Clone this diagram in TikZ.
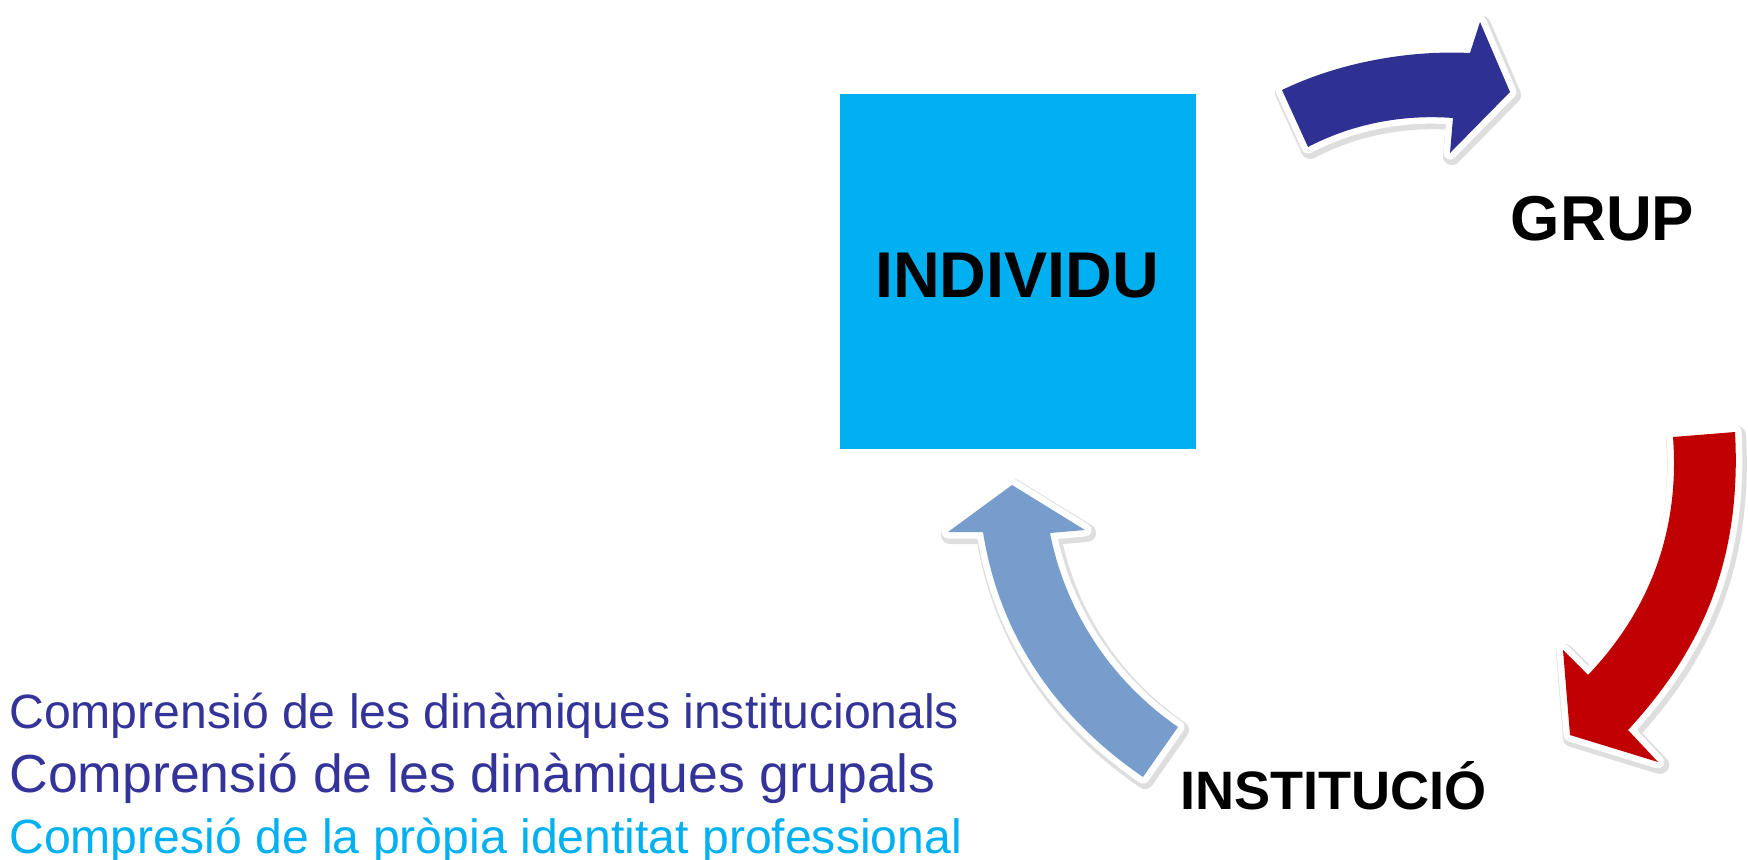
\documentclass[tikz,border=0pt]{standalone}
\usepackage{fontspec}
\setmainfont{Liberation Sans}
\definecolor{sqblue}{HTML}{00B0F0}
\definecolor{navy}{HTML}{2E3192}
\definecolor{txtnavy}{HTML}{333399}
\definecolor{arrred}{HTML}{C00000}
\definecolor{arrlight}{HTML}{769DCB}
\tikzset{
  lbl/.style={font=\bfseries\fontsize{36.8}{40}\selectfont, inner sep=0pt, anchor=base},
  bline/.style={inner sep=0pt, anchor=base west},
  arrshadow/.style={draw=black, draw opacity=0.13, line width=0.36cm, line join=round, fill=black, fill opacity=0.13},
  arrborder/.style={draw=white, line width=0.26cm, line join=round},
}
\begin{document}
\begin{tikzpicture}[x=0.02cm,y=-0.02cm]
\useasboundingbox (0,0) rectangle (1748,859);
% square
\node[fill=sqblue, minimum width=7.12cm, minimum height=7.1cm, inner sep=0pt] (individu) at (1018,271.5) {};
\node[lbl] (indtxt) at (1017,297) {INDIVIDU};
% labels
\node[lbl, font=\bfseries\fontsize{36.1}{40}\selectfont] (grup) at (1602.5,240) {GRUP};
\node[lbl, font=\bfseries\fontsize{30.8}{34}\selectfont] (inst) at (1333.5,809) {INSTITUCIÓ};
% arrows
\def\arrA{(1282,90) .. controls (1340,62) and (1410,50) .. (1470,53) -- (1480,22) -- (1510,92) -- (1450,153) -- (1453,118) .. controls (1400,114) and (1350,125) .. (1308,147) -- cycle}
\def\arrB{(1673,437) -- (1735,432) .. controls (1742,560) and (1702,650) .. (1628,730) -- (1658,762) -- (1570,735) -- (1563,650) -- (1588,675) .. controls (1650,610) and (1680,530) .. (1673,437) -- cycle}
\def\arrC{(1012,485) -- (1085,530) -- (1050,533) .. controls (1065,610) and (1110,680) .. (1178,727) -- (1143,777) .. controls (1060,720) and (1000,640) .. (983,532) -- (948,532) -- cycle}
\foreach \p/\c in {\arrA/navy, \arrB/arrred, \arrC/arrlight}{
  \begin{scope}[shift={(2,3)}]
    \path[arrshadow] \p;
  \end{scope}
  \path[arrborder, fill=white] \p;
  \path[fill=\c] \p;
}
% bottom text
\node[bline, text=txtnavy, font=\fontsize{27.4}{30}\selectfont] (l1) at (9,728) {Comprensió de les dinàmiques institucionals};
\node[bline, text=txtnavy, font=\fontsize{30.5}{33}\selectfont] (l2) at (9,792) {Comprensió de les dinàmiques grupals};
\node[bline, text=sqblue, font=\fontsize{27.4}{30}\selectfont] (l3) at (9,853) {Compresió de la pròpia identitat professional};
\end{tikzpicture}
\end{document}
